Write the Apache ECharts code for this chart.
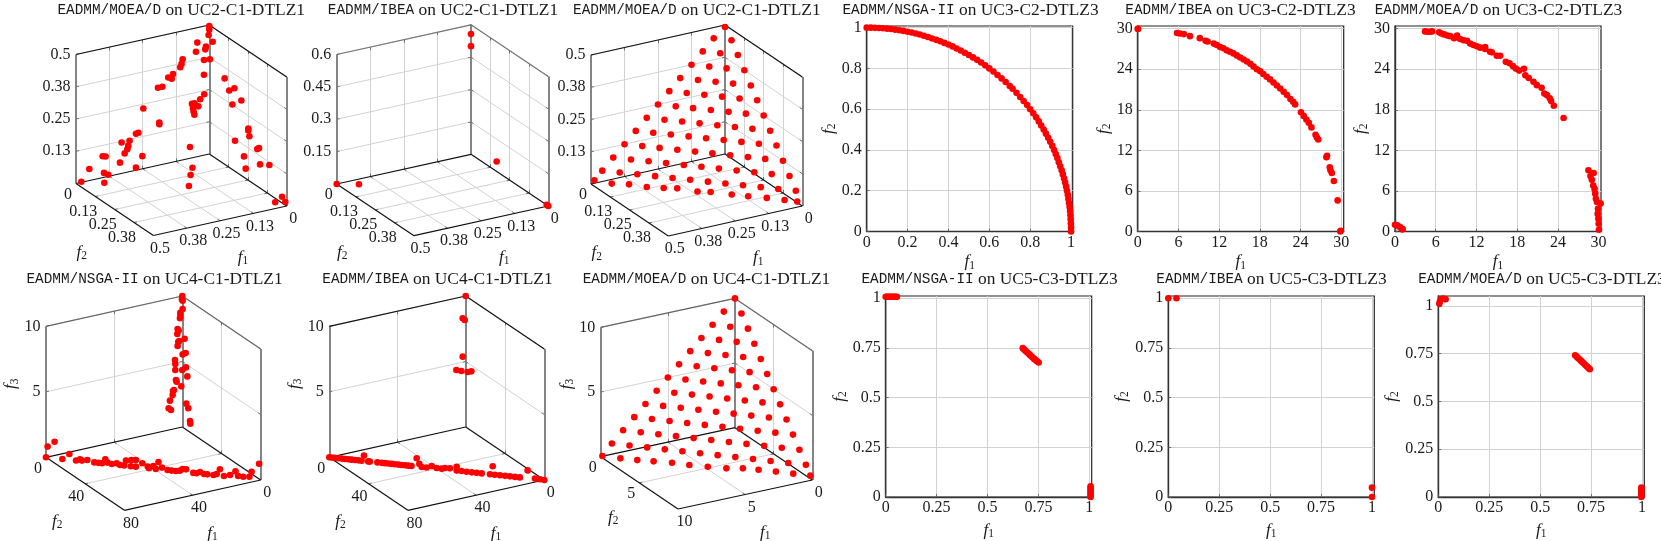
<!DOCTYPE html>
<html>
<head>
<meta charset="utf-8">
<title>EADMM fronts</title>
<script src="https://cdn.jsdelivr.net/npm/echarts@6/dist/echarts.min.js"></script>
<style>
  html, body { margin: 0; padding: 0; background: #fff; }
  #chart-container { width: 1661px; height: 541px; }
</style>
</head>
<body>
<div id="chart-container"></div>
<script>
// points are [f1, f2, f3]
const uc2MoeadFirst = [
    [0.48,0,0.002],[0.45,0,0.045],[0.417,0.04,0],[0.395,0,0.017],[0.379,0,0.006],[0.4,0,0.083],[0.389,0,0.079],
    [0.335,0,0.043],[0.3175,0,0.075],[0.3075,0,0.089],[0.304,0,0.101],[0.299,0,0.12],[0.329,0,0.12],[0.275,0,0.01],
    [0.251,0,0.049],[0.275,0,0.141],[0.266,0,0.143],[0.2475,0,0.233],[0.1875,0,0.165],[0.1875,0,0.158],[0.1925,0,0.301],
    [0.176,0,0.301],[0.154,0,0.332],[0.141,0,0.324],[0.136,0,0.341],[0.109,0,0.361],[0.104,0,0.373],[0.1,0,0.39],
    [0.05,0,0.408],[0.045,0,0.442],[0.0725,0,0.044],[0.105,0.072,0],[0.141,0.122,0],[0.192,0.199,0],[0.065,0,0.209],
    [0.055,0,0.209],[0.061,0,0.191],[0.059,0,0.178],[0.056,0,0.165],[0.041,0,0.194],[0.034,0,0.22],[0.019,0,0.236],
    [0.02,0,0.312],[0.02,0,0.369],[0.015,0,0.409],[0.0125,0,0.419],[0,0.004,0.369],[0,0.022,0.444],[0.0025,0,0.462],
    [0,0,0.483],[0,0,0.496],[0,0.099,0.333],[0,0.129,0.298],[0,0.162,0.32],[0,0.149,0.252],[0,0.207,0.291],
    [0,0.252,0.2],[0,0.252,0.193],[0,0.259,0.173],[0,0.166,0.118],[0,0.31,0.144],[0,0.321,0.152],[0,0.224,0.081],
    [0,0.235,0.038],[0,0.328,0.092],[0,0.388,0.114],[0,0.47,0.024],[0.017,0.455,0],[0,0.491,0.012]
];
const uc2Ibea = [[0,0,0.557],[0,0,0.501],[0.5,0,0],[0.439,0.038,0],[0,0.166,0.046],[0,0.5,0],[0.003,0.495,0.004]];
const uc2MoeadSecond = [
    [0.492,0.008,0.016],[0.451,0.049,0.01],[0.41,0.09,0.014],[0.368,0.132,0.011],[0.328,0.172,0.014],[0.296,0.204,0.018],
    [0.248,0.252,0.014],[0.217,0.283,0.017],[0.167,0.333,0.016],[0.128,0.372,0.016],[0.084,0.416,0.017],[0.042,0.458,0.016],[0.012,0.488,0.015],
    [0.458,0,0.042],[0.417,0.042,0.042],[0.375,0.083,0.042],[0.333,0.125,0.042],[0.292,0.167,0.042],[0.25,0.208,0.042],
    [0.208,0.25,0.042],[0.167,0.292,0.042],[0.125,0.333,0.042],[0.083,0.375,0.042],[0.042,0.417,0.042],[0,0.458,0.042],
    [0.417,0,0.083],[0.375,0.042,0.083],[0.333,0.083,0.083],[0.292,0.125,0.083],[0.25,0.167,0.083],[0.208,0.208,0.083],
    [0.167,0.25,0.083],[0.125,0.292,0.083],[0.083,0.333,0.083],[0.042,0.375,0.083],[0,0.417,0.083],
    [0.375,0,0.125],[0.333,0.042,0.125],[0.292,0.083,0.125],[0.25,0.125,0.125],[0.208,0.167,0.125],[0.167,0.208,0.125],
    [0.125,0.25,0.125],[0.083,0.292,0.125],[0.042,0.333,0.125],[0,0.375,0.125],
    [0.333,0,0.167],[0.292,0.042,0.167],[0.25,0.083,0.167],[0.208,0.125,0.167],[0.167,0.167,0.167],[0.125,0.208,0.167],
    [0.083,0.25,0.167],[0.042,0.292,0.167],[0,0.333,0.167],
    [0.292,0,0.208],[0.25,0.042,0.208],[0.208,0.083,0.208],[0.167,0.125,0.208],[0.125,0.167,0.208],[0.083,0.208,0.208],
    [0.042,0.25,0.208],[0,0.292,0.208],
    [0.25,0,0.25],[0.208,0.042,0.25],[0.167,0.083,0.25],[0.125,0.125,0.25],[0.083,0.167,0.25],[0.042,0.208,0.25],[0,0.25,0.25],
    [0.208,0,0.292],[0.167,0.042,0.292],[0.125,0.083,0.292],[0.083,0.125,0.292],[0.042,0.167,0.292],[0,0.208,0.292],
    [0.167,0,0.333],[0.125,0.042,0.333],[0.083,0.083,0.333],[0.042,0.125,0.333],[0,0.167,0.333],
    [0.125,0,0.375],[0.083,0.042,0.375],[0.042,0.083,0.375],[0,0.125,0.375],
    [0.083,0,0.417],[0.042,0.042,0.417],[0,0.083,0.417],
    [0.042,0,0.458],[0,0.042,0.458],
    [0,0,0.492]
];
const uc4Nsga = [
    [0,0,10],[0.2,0,9.75],[1.17,0,8.76],[1.17,0,8.51],[1.37,0,8.34],[2.74,0,7.56],[2.15,0,7.42],[2.93,0,7.18],[2.35,0,6.58],
    [1.76,0,6.62],[2.74,0,6.26],[4.3,0,5.24],[4.11,0,4.93],[4.11,0,4.47],[3.72,0,3.7],[3.33,0,3.56],[0.59,0,3.12],[4.89,0,2.97],
    [5.48,0,2.91],[5.67,0,2.61],[7.24,0,2.22],[8.02,0,1.66],[6.65,0,1.49],
    [0,0.34,9.66],[0,0.34,9.02],[0,2.38,6.86],[0,3.4,5.82],[0,0.34,5.56],[0,0,4.35],[0,3.74,4.74],[0,5.11,4.12],[0,4.09,1.99],
    [0,6.13,1.74],[0,7.83,0.85],[0,8.17,0.67],
    [80,0,0],[79.4,0.6,0.83],[76.8,3.2,1.26],[73.9,6.1,0],[71.3,8.7,0.44],[68.8,11.2,0],[67.3,12.7,0.12],[66.6,13.4,0.04],
    [64.6,15.4,0.13],[62,18,0],[60.5,19.5,0],[59.1,20.9,0],[57.9,22.1,0.33],[57.1,22.9,0.09],[55.5,24.5,0.02],[53.7,26.3,0.11],
    [52.4,27.6,0.01],[50.9,29.1,0],[50.2,29.8,0.39],[48.2,31.8,0.48],[46.5,33.5,0.52],[48.4,31.6,0],[46.5,33.5,0.01],[44.1,35.9,0.32],
    [42.1,37.9,0.11],[41.6,38.4,0],[40,40,0.2],[39.1,40.9,0],[38.1,41.9,0.55],[36.8,43.2,0.15],[34.7,45.3,0.01],[33.2,46.8,0],
    [31.6,48.4,0],[30.1,49.9,0.06],[29.1,50.9,0.21],[27.8,52.2,0.21],[25.1,54.9,0],[23.9,56.1,0],[22.6,57.4,0.12],[21.1,58.9,0],
    [19.9,60.1,0],[17.6,62.4,0],[16.4,63.6,0.1],[15.2,64.8,0.49],[13.7,66.3,0.01],[11.4,68.6,0.13],[9.4,70.6,0.46],[8.4,71.6,0.12],
    [6.5,73.5,0.11],[4.2,75.8,0.16],[3.4,76.6,0.56],[0.6,79.4,1.23]
];
const uc4Ibea = [
    [0,0,10],[1.76,0,8.35],[0.59,0,8.18],[1.76,0,5.42],[5.48,0,4.51],[2.54,0,4.35],[0,2.03,4.3],[0,5.76,4.54],
    [80,0,0],[79.1,0.9,0],[77.9,2.1,0],[76.7,3.3,0],[75.4,4.6,0],[74.2,5.8,0],[72.9,7.1,0],[71.7,8.3,0],[70.4,9.6,0],[69.2,10.8,0],
    [68,12,0],[67.1,12.9,0.41],[65.5,14.5,0],[64.9,15.1,0],[62.1,17.9,0],[60.5,19.5,0],[59.3,20.7,0],[58,22,0],[56.8,23.2,0],
    [55.6,24.4,0],[54.3,25.7,0],[53.1,26.9,0],[51.8,28.2,0],[50.6,29.4,0],[49.4,30.6,0],[47.5,32.5,0.63],[46.5,33.5,0.22],
    [45.6,34.4,0],[43.8,36.2,0],[41.9,38.1,0.16],[40.1,39.9,0.05],[38.2,41.8,0.04],[37,43,0.12],[35.1,44.9,0.13],[32.6,47.4,0.31],
    [32.6,47.4,0.01],[30.8,49.2,0.02],[28.9,51.1,0],[27,53,0],[25.2,54.8,0],[23.3,56.7,0],[20.2,59.8,0],[19.2,60.8,0.63],[18.4,61.6,0],
    [16.5,63.5,0],[14.6,65.4,0],[12.8,67.2,0],[10.9,69.1,0],[9.1,70.9,0],[6.2,73.8,0.6],[3.5,76.5,0.03],[1.6,78.4,0.02],[0,80,0]
];
const uc4Moead = [
    [9.92,0.08,0.07],[9.07,0.93,0.04],[8.27,1.73,0.05],[7.5,2.5,0.09],[6.63,3.37,0.14],[5.81,4.19,0.11],[4.94,5.06,0.14],
    [4.06,5.94,0.17],[3.28,6.72,0.31],[2.54,7.46,0.34],[1.72,8.28,0.34],[0.9,9.1,0.33],[0.09,9.91,0.32],
    [9.167,0,0.833],[8.333,0.833,0.833],[7.5,1.667,0.833],[6.667,2.5,0.833],[5.833,3.333,0.833],[5,4.167,0.833],
    [4.167,5,0.833],[3.333,5.833,0.833],[2.5,6.667,0.833],[1.667,7.5,0.833],[0.833,8.333,0.833],[0,9.167,0.833],
    [8.333,0,1.667],[7.5,0.833,1.667],[6.667,1.667,1.667],[5.833,2.5,1.667],[5,3.333,1.667],[4.167,4.167,1.667],
    [3.333,5,1.667],[2.5,5.833,1.667],[1.667,6.667,1.667],[0.833,7.5,1.667],[0,8.333,1.667],
    [7.5,0,2.5],[6.667,0.833,2.5],[5.833,1.667,2.5],[5,2.5,2.5],[4.167,3.333,2.5],[3.333,4.167,2.5],
    [2.5,5,2.5],[1.667,5.833,2.5],[0.833,6.667,2.5],[0,7.5,2.5],
    [6.667,0,3.333],[5.833,0.833,3.333],[5,1.667,3.333],[4.167,2.5,3.333],[3.333,3.333,3.333],[2.5,4.167,3.333],
    [1.667,5,3.333],[0.833,5.833,3.333],[0,6.667,3.333],
    [5.833,0,4.167],[5,0.833,4.167],[4.167,1.667,4.167],[3.333,2.5,4.167],[2.5,3.333,4.167],[1.667,4.167,4.167],
    [0.833,5,4.167],[0,5.833,4.167],
    [5,0,5],[4.167,0.833,5],[3.333,1.667,5],[2.5,2.5,5],[1.667,3.333,5],[0.833,4.167,5],[0,5,5],
    [4.167,0,5.833],[3.333,0.833,5.833],[2.5,1.667,5.833],[1.667,2.5,5.833],[0.833,3.333,5.833],[0,4.167,5.833],
    [3.333,0,6.667],[2.5,0.833,6.667],[1.667,1.667,6.667],[0.833,2.5,6.667],[0,3.333,6.667],
    [2.5,0,7.5],[1.667,0.833,7.5],[0.833,1.667,7.5],[0,2.5,7.5],
    [1.667,0,8.333],[0.833,0.833,8.333],[0,1.667,8.333],
    [0.833,0,9.167],[0,0.833,9.167],
    [0,0,10]
];

// points are [f1, f2]
const uc3Nsga = [
    [0,1],[0.02,1],[0.04,0.999],[0.06,0.998],[0.08,0.997],[0.1,0.995],[0.12,0.993],[0.14,0.99],[0.16,0.987],[0.18,0.984],
    [0.2,0.98],[0.22,0.976],[0.24,0.971],[0.26,0.966],[0.28,0.96],[0.3,0.954],[0.32,0.947],[0.34,0.94],[0.36,0.933],[0.38,0.925],
    [0.4,0.917],[0.42,0.908],[0.44,0.898],[0.46,0.888],[0.48,0.877],[0.5,0.866],[0.52,0.854],[0.54,0.842],[0.56,0.829],[0.58,0.815],
    [0.6,0.8],[0.62,0.785],[0.64,0.768],[0.66,0.751],[0.68,0.733],[0.7,0.714],
    [0.714,0.7],[0.733,0.68],[0.751,0.66],[0.768,0.64],[0.785,0.62],[0.8,0.6],[0.815,0.58],[0.829,0.56],[0.842,0.54],[0.854,0.52],
    [0.866,0.5],[0.877,0.48],[0.888,0.46],[0.898,0.44],[0.908,0.42],[0.917,0.4],[0.925,0.38],[0.933,0.36],[0.94,0.34],[0.947,0.32],
    [0.954,0.3],[0.96,0.28],[0.966,0.26],[0.971,0.24],[0.976,0.22],[0.98,0.2],[0.984,0.18],[0.987,0.16],[0.99,0.14],[0.993,0.12],
    [0.995,0.1],[0.997,0.08],[0.998,0.06],[0.999,0.04],[1,0.02],[1,0]
];
const uc3Ibea = [
    [0,30],[0.05,29.95],[5.8,29.36],[6.25,29.3],[6.8,29.2],[7.7,28.9],[9.15,28.6],[10,28.2],[10.3,28.1],[11.2,27.8],[11.66,27.6],[12.15,27.3],
    [12.64,27.1],[13.1,26.8],[13.6,26.6],[14.1,26.35],[14.6,26.05],[15.1,25.75],[15.6,25.45],[16.1,25.15],[16.6,24.8],[17.07,24.4],
    [17.56,24],[18.05,23.7],[18.5,23.3],[19,22.9],[19.5,22.5],[20,22.05],[20.5,21.6],[21,21.15],[21.5,20.66],[22,20.2],[22.5,19.6],
    [22.9,19.2],[23.2,18.8],[24.05,17.65],[24.45,17.1],[24.85,16.56],[25.2,16.07],[25.6,15.4],[26.2,14.3],[26.4,13.9],[26.6,13.6],
    [27.8,11],[27.9,11.2],[28.3,9.5],[28.4,9.05],[28.6,8.65],[28.9,7.46],[29.46,4.6],[29.86,0],[29.9,0.1]
];
const uc3Moead = [
    [4.43,29.6],[4.77,29.56],[5.16,29.56],[5.46,29.6],[6.5,29.46],[6.84,29.3],[7.23,29.16],[7.72,29],[8.1,28.9],[8.7,28.6],[9.15,29],
    [9,28.77],[9.6,28.47],[10.1,28.3],[10.6,28.2],[11.07,27.8],[11.56,27.6],[12.05,27.4],[12.54,27.2],[13.28,27.3],[13.28,27],[14,26.6],
    [14.26,26.5],[15,26],[15.5,26],[16.33,25.1],[16.87,24.9],[17.36,24.47],[17.8,24.1],[18.3,23.8],[19,24.07],[19.2,23.1],[19.7,22.7],
    [20.4,22.15],[20.9,21.65],[21.6,21.25],[22,20.4],[22.4,20.17],[22.8,19.7],[23,19.3],[23.4,18.6],[24.84,16.8],
    [28.5,9.05],[29.27,8.65],[28.8,8.2],[29,7.66],[29.2,6.8],[29.4,6.3],[29.5,5.6],[29.6,4.84],[29.76,4.35],[30.3,4.15],[29.9,3.36],
    [29.86,2.6],[29.96,1.88],[30,1.14],[30.05,0.25],[0,1],[0.34,0.9],[0.74,0.64],[1.03,0.35],[1.13,0.35]
];
const uc5Nsga = [
    [0,1.008],[0.006,1.008],[0.012,1.008],[0.018,1.008],[0.024,1.008],[0.03,1.008],[0.036,1.008],[0.042,1.008],[0.048,1.008],[0.055,1.008],
    [0.673,0.749],[0.68,0.742],[0.687,0.735],[0.694,0.728],[0.701,0.722],[0.708,0.715],[0.715,0.708],[0.722,0.702],[0.729,0.695],[0.736,0.689],[0.743,0.683],[0.751,0.677],
    [1.006,0.054],[1.006,0.045],[1.006,0.036],[1.006,0.027],[1.006,0.018],[1.006,0.009],[1.006,0]
];
const uc5Ibea = [[0,1],[0.04,1],[1,0.047],[1,0]];
const uc5Moead = [
    [0.005,1.01],[0.008,1.022],[0.013,1.034],[0.02,1.036],[0.025,1.037],[0.03,1.035],[0.036,1.034],
    [0.672,0.741],[0.679,0.734],[0.686,0.727],[0.693,0.72],[0.7,0.713],[0.707,0.706],[0.714,0.699],[0.722,0.69],[0.73,0.682],[0.737,0.675],[0.744,0.668],
    [0.997,0.05],[0.997,0.04],[0.997,0.03],[0.997,0.02],[0.997,0.01],[0.997,0]
];

const ticksHalf = [0, 0.125, 0.25, 0.375, 0.5];
const labelsHalf = ['0', '0.13', '0.25', '0.38', '0.5'];
const ticksSix = [0, 0.15, 0.3, 0.45, 0.6];
const labelsSix = ['0', '0.15', '0.3', '0.45', '0.6'];
const ticksEighty = [0, 40, 80];
const ticksTen = [0, 5, 10];

const SERIF = '"Liberation Serif", serif';
const MONO = '"Liberation Mono", monospace';
const RED = '#ff0000';
const INK = '#1a1a1a';

const textRich = {
    m: { fontFamily: MONO, fontSize: 14.4, fontWeight: 'normal', color: INK },
    r: { fontFamily: SERIF, fontSize: 17.4, fontWeight: 'normal', color: INK },
    i: { fontFamily: SERIF, fontStyle: 'italic', fontSize: 17, fontWeight: 'normal', color: INK },
    s: { fontFamily: SERIF, fontSize: 11.5, fontWeight: 'normal', color: INK, padding: [7, 0, 0, 0] }
};
const mathName = (n) => '{i|f}{s|' + n + '}';

const views = [
    { title: ['EADMM/MOEA/D', 'UC2-C1-DTLZ1'], titleX: 176.2, titleY: -3, data: uc2MoeadFirst,
      back: [209.3, 154], left: [76, 183.5], right: [286.7, 206], h: 129, topColor: '#111',
      t1: ticksHalf, l1: labelsHalf, t2: ticksHalf, l2: labelsHalf, t3: ticksHalf, l3: labelsHalf, name1: [23, 37], name2: [-33, 43] },
    { title: ['EADMM/IBEA', 'UC2-C1-DTLZ1'], titleX: 438, titleY: -3, data: uc2Ibea,
      back: [471, 154.3], left: [336.7, 184], right: [548.3, 206], h: 129.5, topColor: '#777',
      t1: ticksHalf, l1: labelsHalf, t2: ticksHalf, l2: labelsHalf, t3: ticksSix, l3: labelsSix, name1: [23, 37], name2: [-33, 43] },
    { title: ['EADMM/MOEA/D', 'UC2-C1-DTLZ1'], titleX: 691.8, titleY: -3, data: uc2MoeadSecond,
      back: [725, 154], left: [591, 184], right: [802.3, 206], h: 129, topColor: '#111',
      t1: ticksHalf, l1: labelsHalf, t2: ticksHalf, l2: labelsHalf, t3: ticksHalf, l3: labelsHalf, name1: [23, 37], name2: [-33, 43] },
    { title: ['EADMM/NSGA-II', 'UC4-C1-DTLZ1'], titleX: 149.5, titleY: 266, data: uc4Nsga,
      back: [182.3, 427], left: [46, 457.3], right: [260.7, 480], h: 131, topColor: '#666',
      t1: ticksEighty, l1: ticksEighty.map(String), t2: ticksEighty, l2: ticksEighty.map(String), t3: ticksTen, l3: ticksTen.map(String),
      name1: [20, 38], name2: [-28, 38], name3: -35 },
    { title: ['EADMM/IBEA', 'UC4-C1-DTLZ1'], titleX: 432.5, titleY: 266, data: uc4Ibea,
      back: [465.7, 427], left: [329.3, 457.3], right: [544.3, 480], h: 131, topColor: '#111',
      t1: ticksEighty, l1: ticksEighty.map(String), t2: ticksEighty, l2: ticksEighty.map(String), t3: ticksTen, l3: ticksTen.map(String),
      name1: [20, 38], name2: [-28, 38], name3: -35 },
    { title: ['EADMM/MOEA/D', 'UC4-C1-DTLZ1'], titleX: 701.5, titleY: 266, data: uc4Moead,
      back: [735, 427.7], left: [600.7, 456.7], right: [812.3, 480], h: 129.3, topColor: '#666',
      t1: ticksTen, l1: ticksTen.map(String), t2: ticksTen, l2: ticksTen.map(String), t3: ticksTen, l3: ticksTen.map(String),
      name1: [20, 38], name2: [-26, 35], name3: -34 }
];

const flats = [
    { title: ['EADMM/NSGA-II', 'UC3-C2-DTLZ3'], titleX: 965.5, titleY: -3, data: uc3Nsga,
      left: 866.7, top: 26, xMax: 1.008, yMax: 1.008, xStep: 0.2, yStep: 0.2, nameGapY: 23, nameGapX: 21 },
    { title: ['EADMM/IBEA', 'UC3-C2-DTLZ3'], titleX: 1235.5, titleY: -3, data: uc3Ibea,
      left: 1137.7, top: 26, xMax: 30.35, yMax: 30.4, xStep: 6, yStep: 6, nameGapY: 21, nameGapX: 21 },
    { title: ['EADMM/MOEA/D', 'UC3-C2-DTLZ3'], titleX: 1493.5, titleY: -3, data: uc3Moead,
      left: 1395, top: 26, xMax: 30.35, yMax: 30.4, xStep: 6, yStep: 6, nameGapY: 21, nameGapX: 21 },
    { title: ['EADMM/NSGA-II', 'UC5-C3-DTLZ3'], titleX: 984.5, titleY: 266, data: uc5Nsga,
      left: 885.7, top: 296, xMax: 1.0115, yMax: 1.0115, xStep: 0.25, yStep: 0.25, nameGapY: 35, nameGapX: 24 },
    { title: ['EADMM/IBEA', 'UC5-C3-DTLZ3'], titleX: 1266.5, titleY: 266, data: uc5Ibea,
      left: 1168.3, top: 296, xMax: 1.0115, yMax: 1.0115, xStep: 0.25, yStep: 0.25, nameGapY: 35, nameGapX: 24 },
    { title: ['EADMM/MOEA/D', 'UC5-C3-DTLZ3'], titleX: 1537, titleY: 266, data: uc5Moead,
      left: 1438.3, top: 296, xMax: 1.0115, yMax: 1.051, xStep: 0.25, yStep: 0.25, nameGapY: 35, nameGapX: 24 }
];

// oblique projection of [f1, f2, f3] into page pixels, same look as pgfplots default view
function project(view, p) {
    const max = [view.t1[view.t1.length - 1], view.t2[view.t2.length - 1], view.t3[view.t3.length - 1]];
    const a = p[0] / max[0], b = p[1] / max[1], c = p[2] / max[2];
    return [
        view.back[0] + a * (view.left[0] - view.back[0]) + b * (view.right[0] - view.back[0]),
        view.back[1] + a * (view.left[1] - view.back[1]) + b * (view.right[1] - view.back[1]) - c * view.h
    ];
}

const titles = [];
const grids = [{ left: 0, top: 0, width: 1661, height: 541, show: false }];
const xAxes = [{ type: 'value', gridIndex: 0, min: 0, max: 1661, show: false }];
const yAxes = [{ type: 'value', gridIndex: 0, min: 0, max: 541, inverse: true, show: false }];
const series = [];

function addTitle(item) {
    titles.push({
        text: '{m|' + item.title[0] + '}{r| on ' + item.title[1] + '}',
        left: item.titleX,
        top: item.titleY,
        textAlign: 'center',
        textStyle: { fontWeight: 'normal', rich: textRich }
    });
}

function linesSeries(segments, color, width, z) {
    return {
        type: 'lines',
        coordinateSystem: 'cartesian2d',
        xAxisIndex: 0,
        yAxisIndex: 0,
        silent: true,
        z: z,
        lineStyle: { color: color, width: width, opacity: 1 },
        data: segments.map((s) => ({ coords: s }))
    };
}

views.forEach(function (view) {
    addTitle(view);
    const m1 = view.t1[view.t1.length - 1], m2 = view.t2[view.t2.length - 1], m3 = view.t3[view.t3.length - 1];
    const P = (a, b, c) => project(view, [a, b, c]);
    const gridSegs = [], tickSegs = [];
    const wallLine = function (A, B) {
        gridSegs.push([A, B]);
        const len = Math.hypot(B[0] - A[0], B[1] - A[1]);
        const ux = (B[0] - A[0]) / len * 3, uy = (B[1] - A[1]) / len * 3;
        tickSegs.push([A, [A[0] + ux, A[1] + uy]]);
        tickSegs.push([B, [B[0] - ux, B[1] - uy]]);
    };
    view.t1.slice(1, -1).forEach(function (t) {
        wallLine(P(t, 0, 0), P(t, m2, 0));
        wallLine(P(t, 0, 0), P(t, 0, m3));
    });
    view.t2.slice(1, -1).forEach(function (t) {
        wallLine(P(0, t, 0), P(m1, t, 0));
        wallLine(P(0, t, 0), P(0, t, m3));
    });
    view.t3.slice(1).forEach(function (t) {
        wallLine(P(0, 0, t), P(m1, 0, t));
        wallLine(P(0, 0, t), P(0, m2, t));
    });
    series.push(linesSeries(gridSegs, '#d2d2d2', 1, 1));
    series.push(linesSeries(tickSegs, '#555', 0.8, 2));
    series.push(linesSeries([
        [P(m1, 0, 0), P(m1, 0, m3)], [P(0, 0, 0), P(0, 0, m3)], [P(0, m2, 0), P(0, m2, m3)]
    ], '#777', 1.8, 3));
    series.push(linesSeries([
        [P(m1, 0, m3), P(0, 0, m3)], [P(0, 0, m3), P(0, m2, m3)]
    ], view.topColor, 1.2, 3));
    series.push(linesSeries([
        [P(m1, 0, 0), P(0, 0, 0)], [P(0, 0, 0), P(0, m2, 0)],
        [P(m1, 0, 0), P(m1, m2, 0)], [P(0, m2, 0), P(m1, m2, 0)]
    ], '#111', 1.2, 4));

    // tick labels and axis names hang off invisible points
    const centered = [];
    view.t1.forEach(function (t, i) {
        const q = P(t, m2, 0);
        centered.push({ value: [q[0] + 6.5, q[1] + 13], label: { formatter: view.l1[i] } });
    });
    view.t2.slice(0, -1).forEach(function (t, i) {
        const q = P(m1, t, 0);
        const text = view.l2[i];
        const off = text.length === 1 ? [-8, 11] : text.length === 2 ? [-9, 13] : [-12, 15];
        centered.push({ value: [q[0] + off[0], q[1] + off[1]], label: { formatter: text } });
    });
    const mid1 = P(m1 / 2, m2, 0), mid2 = P(m1, m2 / 2, 0);
    centered.push({ value: [mid1[0] + view.name1[0], mid1[1] + view.name1[1]], label: { formatter: mathName(1), rich: textRich } });
    centered.push({ value: [mid2[0] + view.name2[0], mid2[1] + view.name2[1]], label: { formatter: mathName(2), rich: textRich } });
    if (view.name3) {
        const mid3 = P(m1, 0, m3 / 2);
        centered.push({ value: [mid3[0] + view.name3, mid3[1] - 8], label: { formatter: mathName(3), rich: textRich, rotate: 90 } });
    }
    series.push({
        type: 'scatter', xAxisIndex: 0, yAxisIndex: 0, symbolSize: 1, silent: true, clip: false, z: 5,
        itemStyle: { color: 'rgba(0,0,0,0)', opacity: 1 },
        label: { show: true, position: 'inside', color: INK, fontFamily: SERIF, fontSize: 16 },
        data: centered
    });
    series.push({
        type: 'scatter', xAxisIndex: 0, yAxisIndex: 0, symbolSize: 1, silent: true, clip: false, z: 5,
        itemStyle: { color: 'rgba(0,0,0,0)', opacity: 1 },
        label: { show: true, position: 'left', distance: 5, color: INK, fontFamily: SERIF, fontSize: 16 },
        data: view.t3.slice(1).map(function (t, i) {
            return { value: P(m1, 0, t), label: { formatter: view.l3[i + 1] } };
        })
    });
    series.push({
        type: 'scatter', xAxisIndex: 0, yAxisIndex: 0, symbolSize: 6.6, silent: true, clip: false, z: 10,
        itemStyle: { color: RED, opacity: 1 },
        data: view.data.map((p) => project(view, p))
    });
});

flats.forEach(function (flat) {
    addTitle(flat);
    const idx = grids.length;
    grids.push({ left: flat.left, top: flat.top, width: 206, height: 205.5, show: true, borderColor: '#222', borderWidth: 1.2, backgroundColor: 'transparent' });
    const common = {
        type: 'value',
        gridIndex: idx,
        min: 0,
        nameLocation: 'middle',
        nameTextStyle: { rich: textRich },
        axisLine: { show: true, lineStyle: { color: '#333', width: 1.4 } },
        axisTick: { show: true, inside: true, length: 3, lineStyle: { color: '#555', width: 0.8 } },
        axisLabel: { color: INK, fontFamily: SERIF, fontSize: 16, showMaxLabel: false },
        splitLine: { show: true, showMinLine: false, showMaxLine: false, lineStyle: { color: '#d2d2d2', width: 1 } }
    };
    xAxes.push(Object.assign({}, common, {
        max: flat.xMax, interval: flat.xStep, position: 'bottom',
        name: mathName(1), nameGap: flat.nameGapX,
        axisLabel: Object.assign({}, common.axisLabel, { margin: 3 })
    }));
    yAxes.push(Object.assign({}, common, {
        max: flat.yMax, interval: flat.yStep, position: 'left',
        name: mathName(2), nameGap: flat.nameGapY, nameRotate: 90,
        axisLabel: Object.assign({}, common.axisLabel, { margin: 5 })
    }));
    series.push({
        type: 'scatter', xAxisIndex: idx, yAxisIndex: idx, symbolSize: 6.6, silent: true, clip: false, z: 10,
        itemStyle: { color: RED, opacity: 1 },
        data: flat.data
    });
});

const chart = echarts.init(document.getElementById('chart-container'), null, { renderer: 'canvas' });
chart.setOption({
    animation: false,
    backgroundColor: '#fff',
    title: titles,
    grid: grids,
    xAxis: xAxes,
    yAxis: yAxes,
    series: series
});
</script>
</body>
</html>
